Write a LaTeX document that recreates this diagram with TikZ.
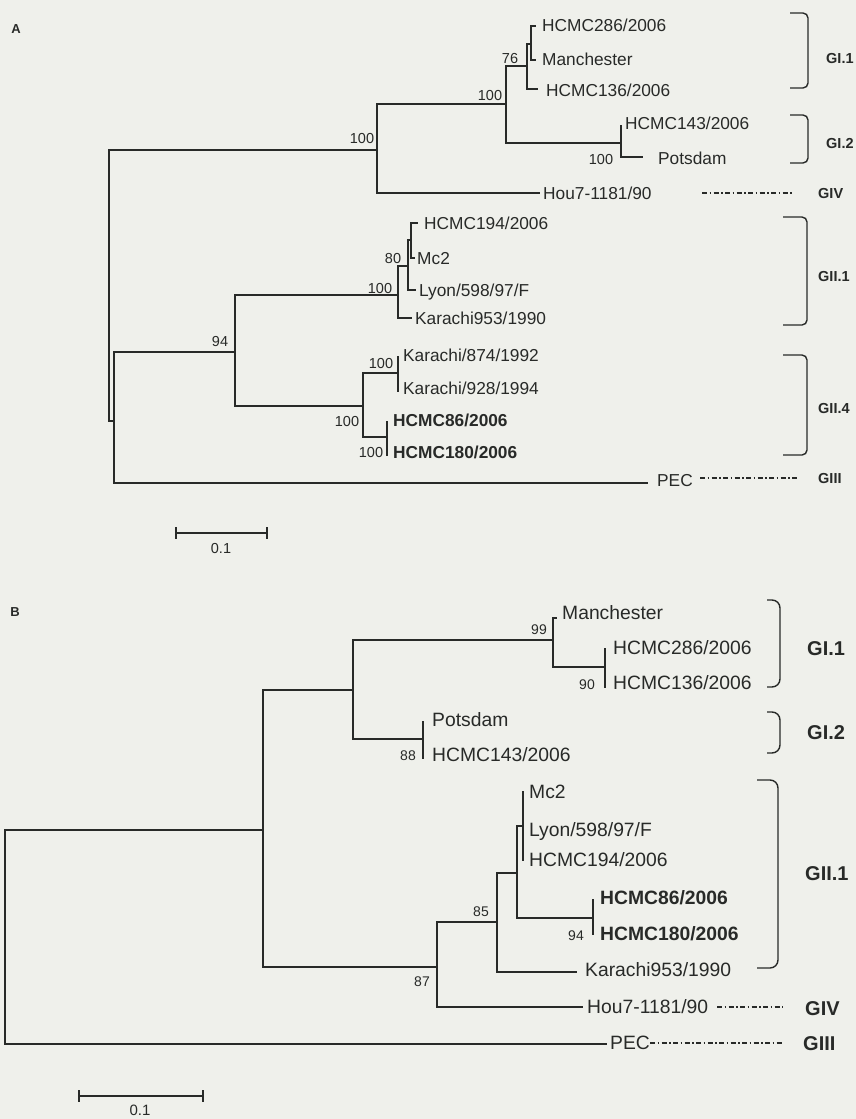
\documentclass[tikz,border=0pt]{standalone}
\usepackage{fontspec}
\setmainfont{Liberation Sans}
\definecolor{bgc}{RGB}{239,240,235}
\definecolor{ink}{RGB}{40,42,40}
\begin{document}
\begin{tikzpicture}[x=1pt,y=-1pt,
  br/.style={draw=ink, line width=1.6pt, line join=miter},
  brk/.style={draw=ink, line width=1.4pt, rounded corners=5pt},
  brkB/.style={draw=ink, line width=1.4pt, rounded corners=8pt},
  dd/.style={draw=ink, line width=1.4pt, dash pattern=on 5pt off 2.5pt on 1.5pt off 2.5pt},
  lfA/.style={anchor=base west, inner sep=0pt, text=ink, yshift=-6.2pt, font=\fontsize{17.3}{20}\selectfont},
  lfAb/.style={lfA, font=\fontsize{17.3}{20}\selectfont\bfseries},
  lfB/.style={anchor=base west, inner sep=0pt, text=ink, yshift=-6.9pt, font=\fontsize{19.3}{22}\selectfont},
  lfBb/.style={lfB, font=\fontsize{19.3}{22}\selectfont\bfseries},
  bsA/.style={inner sep=0pt, text=ink, font=\fontsize{14.5}{16}\selectfont},
  bsB/.style={inner sep=0pt, text=ink, font=\fontsize{14}{16}\selectfont},
  grA/.style={anchor=base west, inner sep=0pt, text=ink, yshift=-5.2pt, font=\fontsize{14.5}{16}\selectfont\bfseries},
  grB/.style={anchor=base west, inner sep=0pt, text=ink, yshift=-7.2pt, font=\fontsize{20}{22}\selectfont\bfseries},
  pan/.style={inner sep=0pt, text=ink, font=\fontsize{13}{14}\selectfont\bfseries}
]
\fill[bgc] (0,0) rectangle (856,1119);
\useasboundingbox (0,0) rectangle (856,1119);

% ================= Panel A =================
\node[pan] (panA) at (16,29) {A};
% internal nodes
\coordinate (rA) at (109,285);
\coordinate (nA1) at (377,150);
\coordinate (nGI) at (506,104);
\coordinate (n76) at (527,66);
\coordinate (nMan) at (531,44);
\coordinate (nGI2) at (621,143);
\coordinate (nAB) at (114,421);
\coordinate (n94) at (235,352);
\coordinate (n100a) at (398,295);
\coordinate (n80) at (408,266);
\coordinate (nHM) at (411,240);
\coordinate (nGII4) at (363,406);
\coordinate (nK) at (398,373);
\coordinate (nH) at (387,437);
% leaf tips
\coordinate (tA286) at (536,26);
\coordinate (tAMan) at (536,60);
\coordinate (tA136) at (538,89);
\coordinate (tA143) at (622,126);
\coordinate (tAPots) at (643,157);
\coordinate (tAHou) at (540,193);
\coordinate (tA194) at (418,223);
\coordinate (tAMc2) at (415,258);
\coordinate (tALyon) at (416,290);
\coordinate (tAK953) at (412,318);
\coordinate (tAK874) at (399,357);
\coordinate (tAK928) at (399,391);
\coordinate (tA86) at (388,422);
\coordinate (tA180) at (388,455);
\coordinate (tAPEC) at (648,483);
% branches
\draw[br] (rA) |- (nA1);
\draw[br] (rA) |- (nAB);
\draw[br] (nA1) |- (nGI);
\draw[br] (nA1) |- (tAHou);
\draw[br] (nGI) |- (n76);
\draw[br] (nGI) |- (nGI2);
\draw[br] (n76) |- (nMan);
\draw[br] (n76) |- (tA136);
\draw[br] (nMan) |- (tA286);
\draw[br] (nMan) |- (tAMan);
\draw[br] (nGI2) |- (tA143);
\draw[br] (nGI2) |- (tAPots);
\draw[br] (nAB) |- (n94);
\draw[br] (nAB) |- (tAPEC);
\draw[br] (n94) |- (n100a);
\draw[br] (n94) |- (nGII4);
\draw[br] (n100a) |- (n80);
\draw[br] (n100a) |- (tAK953);
\draw[br] (n80) |- (nHM);
\draw[br] (n80) |- (tALyon);
\draw[br] (nHM) |- (tA194);
\draw[br] (nHM) |- (tAMc2);
\draw[br] (nGII4) |- (nK);
\draw[br] (nGII4) |- (nH);
\draw[br] (nK) |- (tAK874);
\draw[br] (nK) |- (tAK928);
\draw[br] (nH) |- (tA86);
\draw[br] (nH) |- (tA180);
% leaf labels
\node[lfA] (lA286) at (542,25) {HCMC286/2006};
\node[lfA] (lAMan) at (542,59) {Manchester};
\node[lfA] (lA136) at (546,90) {HCMC136/2006};
\node[lfA] (lA143) at (625,123) {HCMC143/2006};
\node[lfA] (lAPots) at (658,158) {Potsdam};
\node[lfA] (lAHou) at (543,193) {Hou7-1181/90};
\node[lfA] (lA194) at (424,223) {HCMC194/2006};
\node[lfA] (lAMc2) at (417,258) {Mc2};
\node[lfA] (lALyon) at (419,290) {Lyon/598/97/F};
\node[lfA] (lAK953) at (415,318) {Karachi953/1990};
\node[lfA] (lAK874) at (403,355) {Karachi/874/1992};
\node[lfA] (lAK928) at (403,388) {Karachi/928/1994};
\node[lfAb] (lA86) at (393,420) {HCMC86/2006};
\node[lfAb] (lA180) at (393,452) {HCMC180/2006};
\node[lfA] (lAPEC) at (657,480) {PEC};
% bootstrap values
\node[bsA] (bA1) at (362,139) {100};
\node[bsA] (bA2) at (490,96) {100};
\node[bsA] (bA3) at (510,59) {76};
\node[bsA] (bA4) at (601,160) {100};
\node[bsA] (bA5) at (220,342) {94};
\node[bsA] (bA6) at (380,289) {100};
\node[bsA] (bA7) at (393,259) {80};
\node[bsA] (bA8) at (381,364) {100};
\node[bsA] (bA9) at (347,422) {100};
\node[bsA] (bA10) at (371,453) {100};
% group brackets
\draw[brk] (790,13) -- (808,13) -- (808,88) -- (790,88);
\node[grA] (gA1) at (826,58) {GI.1};
\draw[brk] (790,115) -- (808,115) -- (808,163) -- (790,163);
\node[grA] (gA2) at (826,143) {GI.2};
\coordinate (dA1s) at (702,193);
\node[grA] (gA3) at (818,193) {GIV};
\draw[dd] (dA1s) -- (793,193);
\draw[brk] (783,217) -- (807,217) -- (807,325) -- (783,325);
\node[grA] (gA4) at (818,276) {GII.1};
\draw[brk] (783,355) -- (807,355) -- (807,455) -- (783,455);
\node[grA] (gA5) at (818,408) {GII.4};
\coordinate (dA2s) at (700,478);
\node[grA] (gA6) at (818,478) {GIII};
\draw[dd] (dA2s) -- (797,478);
% scale bar
\coordinate (sA1) at (176,533);
\coordinate (sA2) at (267,533);
\draw[br] (sA1) -- (sA2);
\draw[br] ([yshift=6pt]sA1) -- ([yshift=-6pt]sA1);
\draw[br] ([yshift=6pt]sA2) -- ([yshift=-6pt]sA2);
\node[bsA] (scA) at (221,549) {0.1};

% ================= Panel B =================
\node[pan] (panB) at (15,612) {B};
\coordinate (rB) at (5,938);
\coordinate (nB1) at (263,830);
\coordinate (nBGI) at (353,690);
\coordinate (nB99) at (553,640);
\coordinate (nB90) at (605,667);
\coordinate (nBGI2) at (423,739);
\coordinate (nB87) at (437,967);
\coordinate (nB85) at (497,922);
\coordinate (nBX) at (517,873);
\coordinate (nBMc) at (523,826);
\coordinate (nB94) at (593,918);
% tips
\coordinate (tBMan) at (557,618);
\coordinate (tB286) at (606,649);
\coordinate (tB136) at (606,687);
\coordinate (tBPots) at (424,722);
\coordinate (tB143) at (424,758);
\coordinate (tBMc2) at (524,792);
\coordinate (tBLyon) at (524,830);
\coordinate (tB194) at (524,860);
\coordinate (tB86) at (594,900);
\coordinate (tB180) at (594,934);
\coordinate (tBK953) at (577,972);
\coordinate (tBHou) at (583,1007);
\coordinate (tBPEC) at (607,1044);
% branches
\draw[br] (rB) |- (nB1);
\draw[br] (rB) |- (tBPEC);
\draw[br] (nB1) |- (nBGI);
\draw[br] (nB1) |- (nB87);
\draw[br] (nBGI) |- (nB99);
\draw[br] (nBGI) |- (nBGI2);
\draw[br] (nB99) |- (tBMan);
\draw[br] (nB99) |- (nB90);
\draw[br] (nB90) |- (tB286);
\draw[br] (nB90) |- (tB136);
\draw[br] (nBGI2) |- (tBPots);
\draw[br] (nBGI2) |- (tB143);
\draw[br] (nB87) |- (nB85);
\draw[br] (nB87) |- (tBHou);
\draw[br] (nB85) |- (nBX);
\draw[br] (nB85) |- (tBK953);
\draw[br] (nBX) |- (nBMc);
\draw[br] (nBX) |- (nB94);
\draw[br] (nBMc) |- (tBMc2);
\draw[br] (nBMc) |- (tBLyon);
\draw[br] (nBMc) |- (tB194);
\draw[br] (nB94) |- (tB86);
\draw[br] (nB94) |- (tB180);
% labels
\node[lfB] (lBMan) at (562,613) {Manchester};
\node[lfB] (lB286) at (613,648) {HCMC286/2006};
\node[lfB] (lB136) at (613,683) {HCMC136/2006};
\node[lfB] (lBPots) at (432,720) {Potsdam};
\node[lfB] (lB143) at (432,755) {HCMC143/2006};
\node[lfB] (lBMc2) at (529,792) {Mc2};
\node[lfB] (lBLyon) at (529,830) {Lyon/598/97/F};
\node[lfB] (lB194) at (529,860) {HCMC194/2006};
\node[lfBb] (lB86) at (600,898) {HCMC86/2006};
\node[lfBb] (lB180) at (600,934) {HCMC180/2006};
\node[lfB] (lBK953) at (585,970) {Karachi953/1990};
\node[lfB] (lBHou) at (587,1007) {Hou7-1181/90};
\node[lfB] (lBPEC) at (610,1043) {PEC};
% bootstrap
\node[bsB] (bB1) at (539,630) {99};
\node[bsB] (bB2) at (587,685) {90};
\node[bsB] (bB3) at (408,756) {88};
\node[bsB] (bB4) at (481,912) {85};
\node[bsB] (bB5) at (576,936) {94};
\node[bsB] (bB6) at (422,982) {87};
% brackets
\draw[brkB] (767,600) -- (780,600) -- (780,687) -- (767,687);
\node[grB] (gB1) at (807,648) {GI.1};
\draw[brkB] (767,712) -- (780,712) -- (780,753) -- (767,753);
\node[grB] (gB2) at (807,732) {GI.2};
\draw[brkB] (757,780) -- (778,780) -- (778,968) -- (757,968);
\node[grB] (gB3) at (805,873) {GII.1};
\coordinate (dB1s) at (717,1007);
\node[grB] (gB4) at (805,1008) {GIV};
\draw[dd] (dB1s) -- (783,1007);
\coordinate (dB2s) at (650,1043);
\node[grB] (gB5) at (803,1043) {GIII};
\draw[dd] (dB2s) -- (783,1043);
% scale bar
\coordinate (sB1) at (79,1096);
\coordinate (sB2) at (203,1096);
\draw[br] (sB1) -- (sB2);
\draw[br] ([yshift=6pt]sB1) -- ([yshift=-6pt]sB1);
\draw[br] ([yshift=6pt]sB2) -- ([yshift=-6pt]sB2);
\node[inner sep=0pt, text=ink, font=\fontsize{15}{17}\selectfont] (scB) at (140,1110) {0.1};
\end{tikzpicture}
\end{document}
